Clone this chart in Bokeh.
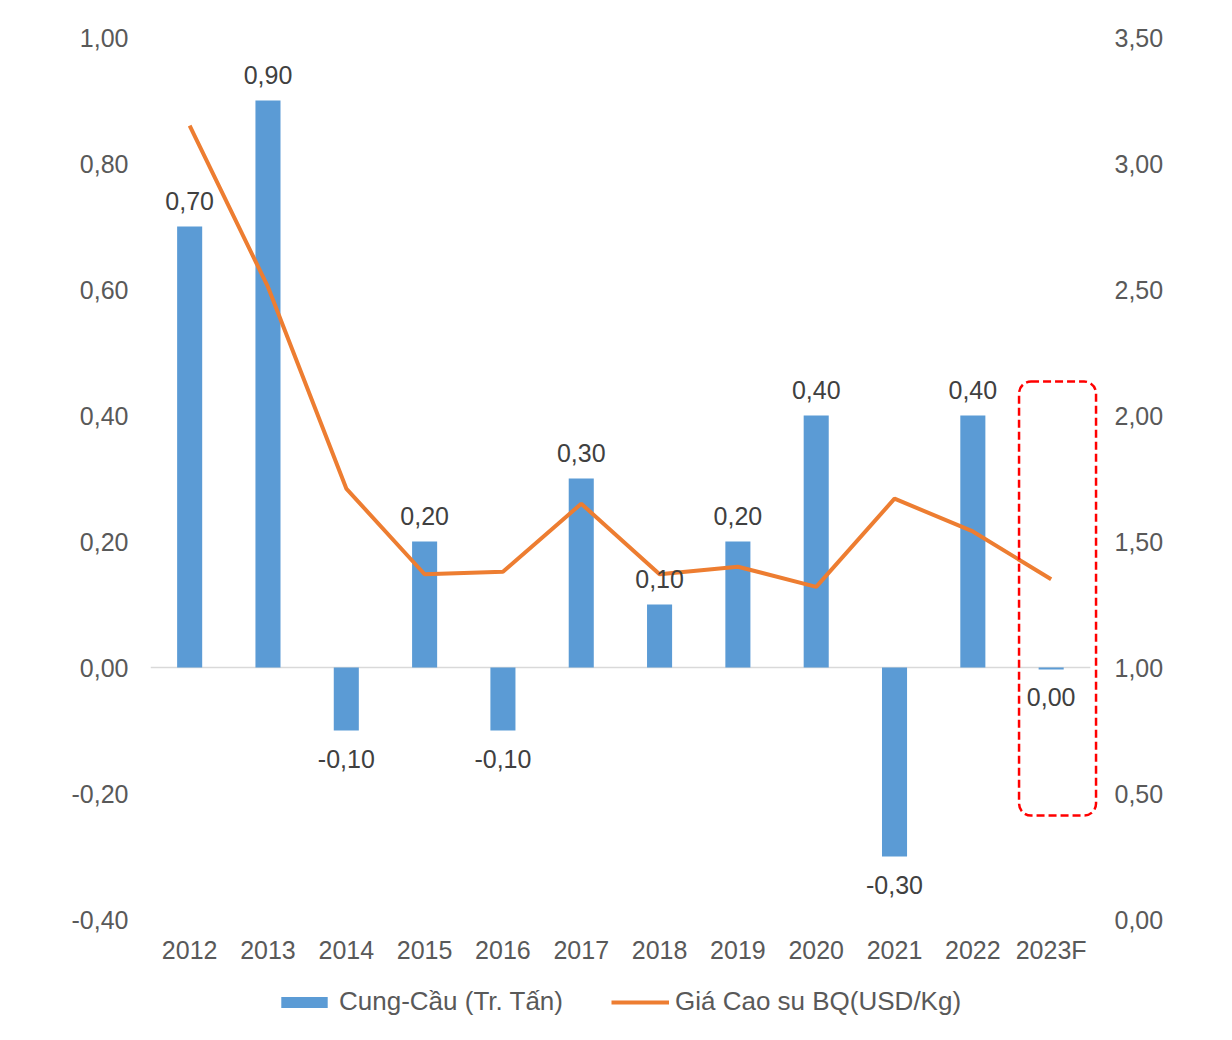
from bokeh.plotting import figure
from bokeh.models import (Range1d, LinearAxis, FixedTicker, CustomJSTickFormatter,
                          ColumnDataSource, Legend, LegendItem, BoxAnnotation)
from bokeh.core.properties import value
from bokeh.embed import file_html
from bokeh.resources import INLINE

# ---------------- data ----------------
years = ["2012", "2013", "2014", "2015", "2016", "2017", "2018", "2019", "2020", "2021", "2022", "2023F"]
balance = [0.70, 0.90, -0.10, 0.20, -0.10, 0.30, 0.10, 0.20, 0.40, -0.30, 0.40, -0.003]
price = [3.15, 2.51, 1.71, 1.37, 1.38, 1.65, 1.37, 1.40, 1.32, 1.67, 1.54, 1.35]
left_ticks = [-0.4, -0.2, 0.0, 0.2, 0.4, 0.6, 0.8, 1.0]
right_ticks = [0.0, 0.5, 1.0, 1.5, 2.0, 2.5, 3.0, 3.5]
bar_name = "Cung-Cầu (Tr. Tấn)"
line_name = "Giá Cao su BQ(USD/Kg)"

BLUE = "#5B9BD5"
ORANGE = "#ED7D31"
AXIS_TXT = "#595959"
LBL_TXT = "#404040"
FONT = "Liberation Sans"

idx = list(range(len(years)))

# plot area: value axis spans 882 px; extra room below it holds the category labels + legend
AXIS_PX = 882
EXTRA_PX = 116
left_span = left_ticks[-1] - left_ticks[0]
right_span = right_ticks[-1] - right_ticks[0]
left_bottom = left_ticks[0] - left_span * EXTRA_PX / AXIS_PX
right_bottom = right_ticks[0] - right_span * EXTRA_PX / AXIS_PX


def fmt(v):
    s = f"{v:.2f}"
    if s == "-0.00":
        s = "0.00"
    return s.replace(".", ",")


labels = [fmt(v) for v in balance]

src = ColumnDataSource(dict(x=idx, year=years, bal=balance, price=price, lbl=labels))
pos = ColumnDataSource(dict(x=[i for i, v in zip(idx, balance) if v >= 0],
                            y=[v for v in balance if v >= 0],
                            t=[l for l, v in zip(labels, balance) if v >= 0]))
neg = ColumnDataSource(dict(x=[i for i, v in zip(idx, balance) if v < 0],
                            y=[v for v in balance if v < 0],
                            t=[l for l, v in zip(labels, balance) if v < 0]))

p = figure(frame_width=950, frame_height=AXIS_PX + EXTRA_PX, output_backend="svg", toolbar_location=None,
           x_range=Range1d(-0.5, 11.63), y_range=Range1d(left_bottom, left_ticks[-1]),
           min_border_left=150, min_border_right=124, min_border_top=37, min_border_bottom=0)
p.outline_line_color = None
p.grid.grid_line_color = None
p.background_fill_color = "white"
p.border_fill_color = "white"

p.extra_y_ranges = {"price": Range1d(right_bottom, right_ticks[-1])}

# zero line
p.segment(x0=[-0.5], y0=[0], x1=[len(years) - 0.5], y1=[0], line_color="#D9D9D9", line_width=1.5)

bars = p.vbar(x="x", top="bal", bottom=0, width=0.32, source=src, fill_color=BLUE, line_color=None)
line = p.line(x="x", y="price", source=src, y_range_name="price", line_color=ORANGE, line_width=4)

# data labels
p.text(x="x", y="y", text="t", source=pos, text_align="center", text_baseline="bottom",
       y_offset=-17, text_font=value(FONT), text_font_size="25px", text_color=LBL_TXT)
p.text(x="x", y="y", text="t", source=neg, text_align="center", text_baseline="top",
       y_offset=19, text_font=value(FONT), text_font_size="25px", text_color=LBL_TXT)

# highlight box around forecast
fc = years.index("2023F")
p.add_layout(BoxAnnotation(left=fc - 0.41, right=fc + 0.573, top=0.454, bottom=-0.235,
                           fill_alpha=0, line_color="#FF0000", line_alpha=1.0, line_width=2.5,
                           line_dash="8 4", border_radius=12))

fmt_code = "return tick.toFixed(2).replace('.', ',');"

# x axis (drawn at the bottom of the value scale)
xa = p.xaxis[0]
xa.fixed_location = left_ticks[0]
xa.ticker = FixedTicker(ticks=idx)
xa.major_label_overrides = {i: y for i, y in zip(idx, years)}
xa.axis_line_color = None
xa.major_tick_line_color = None
xa.minor_tick_line_color = None
xa.major_tick_out = 0
xa.major_label_standoff = 16
xa.major_label_text_font = FONT
xa.major_label_text_font_size = "25px"
xa.major_label_text_color = AXIS_TXT

ya = p.yaxis[0]
ya.ticker = FixedTicker(ticks=left_ticks)
ya.formatter = CustomJSTickFormatter(code=fmt_code)
ya.axis_line_color = None
ya.major_tick_line_color = None
ya.minor_tick_line_color = None
ya.major_label_standoff = 16
ya.major_label_text_font = FONT
ya.major_label_text_font_size = "25px"
ya.major_label_text_color = AXIS_TXT

ra = LinearAxis(y_range_name="price", ticker=FixedTicker(ticks=right_ticks),
                formatter=CustomJSTickFormatter(code=fmt_code))
ra.axis_line_color = None
ra.major_tick_line_color = None
ra.minor_tick_line_color = None
ra.major_label_standoff = 8
ra.major_label_text_font = FONT
ra.major_label_text_font_size = "25px"
ra.major_label_text_color = AXIS_TXT
p.add_layout(ra, "right")

legend = Legend(items=[LegendItem(label=bar_name, renderers=[bars]),
                       LegendItem(label=line_name, renderers=[line])],
                orientation="horizontal", location=(125, 18),
                label_text_font=FONT, label_text_font_size="26px", label_text_color=AXIS_TXT,
                glyph_width=58, glyph_height=14, label_standoff=6, spacing=48,
                border_line_color=None, background_fill_alpha=0, padding=0, margin=0)
p.add_layout(legend, "center")

open("out.html", "w").write(file_html(p, INLINE))
